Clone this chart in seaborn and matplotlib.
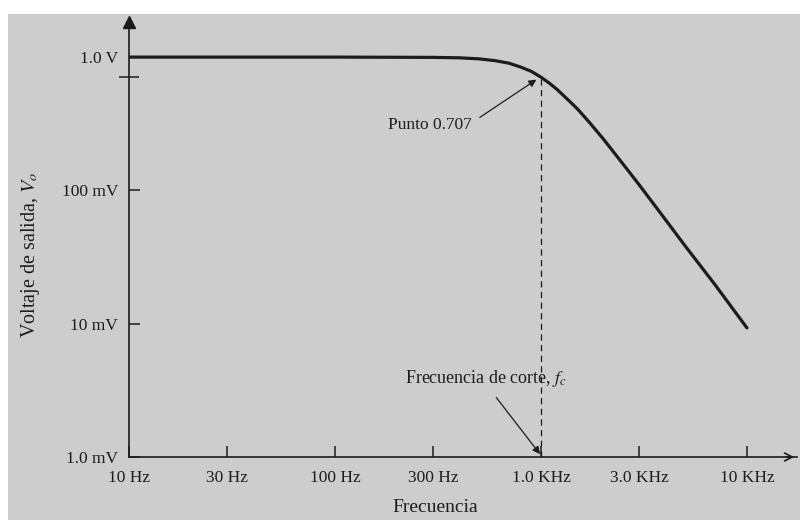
import matplotlib

matplotlib.use("Agg")
import matplotlib.pyplot as plt
import pandas as pd
import seaborn as sns
from matplotlib.patches import Rectangle
from matplotlib.ticker import FixedLocator, NullFormatter, NullLocator

# values
freq_hz = [10, 30, 100, 300, 400, 500, 600, 700, 800, 900, 1000, 1100,
           1200, 1350, 1500, 1700, 2000, 2500, 3000, 4000, 5000, 7000, 10000]
vout_v = [1.0, 1.0, 1.0, 0.995, 0.988, 0.97, 0.94, 0.90, 0.84, 0.78, 0.707, 0.636,
          0.57, 0.48, 0.41, 0.33, 0.245, 0.158, 0.11, 0.061, 0.0385, 0.0196, 0.0093]

x_ticks = [10, 30, 100, 300, 1000, 3000, 10000]
x_tick_labels = ["10 Hz", "30 Hz", "100 Hz", "300 Hz", "1.0 KHz", "3.0 KHz", "10 KHz"]
y_ticks = [0.001, 0.01, 0.1, 1.0]
y_tick_labels = ["1.0 mV", "10 mV", "100 mV", "1.0 V"]

f_cut = 1000
v_cut = 0.707

BG = "#cdcdcd"
INK = "#1c1c1c"

sns.set_theme(style="ticks")
plt.rcParams["font.family"] = ["Liberation Serif", "DejaVu Serif"]
plt.rcParams["mathtext.fontset"] = "stix"

fig = plt.figure(figsize=(8, 5.2), dpi=100, facecolor="white")
fig.patches.append(
    Rectangle((8 / 800, 0), 1, (520 - 14) / 520, transform=fig.transFigure,
              facecolor=BG, edgecolor="none", zorder=-10)
)
# axes box in pixels: x 129..797, y 22..457 (from top)
ax = fig.add_axes([129 / 800, (520 - 457) / 520, (797 - 129) / 800, (457 - 22) / 520])
ax.set_facecolor("none")

df = pd.DataFrame({"f": freq_hz, "v": vout_v})
sns.lineplot(data=df, x="f", y="v", ax=ax, color=INK, linewidth=2.3, zorder=5)

ax.set_xscale("log")
ax.set_yscale("log")
ax.set_xlim(10, 10 ** 4.243)
ax.set_ylim(1e-3, 10 ** ((457 - 22) / 133.3 - 3))

# dashed line at cut-off
ax.vlines(f_cut, 1e-3, v_cut, colors=INK, linestyles=(0, (5, 3.5)), linewidth=0.9)

for side in ["top", "right"]:
    ax.spines[side].set_visible(False)
for side in ["left", "bottom"]:
    ax.spines[side].set_color(INK)
    ax.spines[side].set_linewidth(1.2)

# axis arrows
ax.plot(0, 1, marker="^", color=INK, ms=9, transform=ax.transAxes, clip_on=False)
ax.annotate("", xy=(1.0, 0), xytext=(0.98, 0), xycoords="axes fraction",
            arrowprops=dict(arrowstyle="->", color=INK, lw=1.2, mutation_scale=14))

ax.xaxis.set_major_locator(FixedLocator(x_ticks))
ax.set_xticklabels(x_tick_labels)
ax.xaxis.set_minor_locator(NullLocator())
ax.yaxis.set_major_locator(FixedLocator(y_ticks))
ax.set_yticklabels(y_tick_labels)
ax.yaxis.set_minor_locator(FixedLocator([v_cut]))
ax.yaxis.set_minor_formatter(NullFormatter())

ax.tick_params(axis="both", which="major", direction="in", length=8, width=1.1,
               color=INK, labelcolor=INK, labelsize=12.5)
ax.tick_params(axis="x", which="major", pad=9)
ax.tick_params(axis="y", which="major", pad=8)
ax.tick_params(axis="y", which="minor", direction="inout", length=14, width=1.1, color=INK)

h = 457 - 22
ax.set_xlabel("Frecuencia", fontsize=14, color=INK)
ax.xaxis.set_label_coords((435 - 129) / 668, -(499 - 457) / h)
ax.set_ylabel("Voltaje de salida, $V_o$", fontsize=14.5, color=INK)
ax.yaxis.set_label_coords(-(129 - 42) / 668, (457 - 255) / h)

arrow_kw = dict(arrowstyle="-|>", color=INK, lw=0.9, mutation_scale=11)
ax.annotate("Punto 0.707", xy=(f_cut * 0.975, v_cut * 0.985), xytext=(462, 0.309),
            ha="right", va="center", fontsize=12.5, color=INK,
            arrowprops=dict(**arrow_kw, relpos=(1.0, 0.65), shrinkA=4, shrinkB=2))
ax.annotate("Frecuencia de corte, $f_c$", xy=(f_cut * 0.99, 1.05e-3), xytext=(219, 0.0039),
            ha="left", va="center", fontsize=13, color=INK,
            arrowprops=dict(**arrow_kw, relpos=(0.52, 0.0), shrinkA=5, shrinkB=0))

fig.savefig("out.png", dpi=100, facecolor=fig.get_facecolor())
